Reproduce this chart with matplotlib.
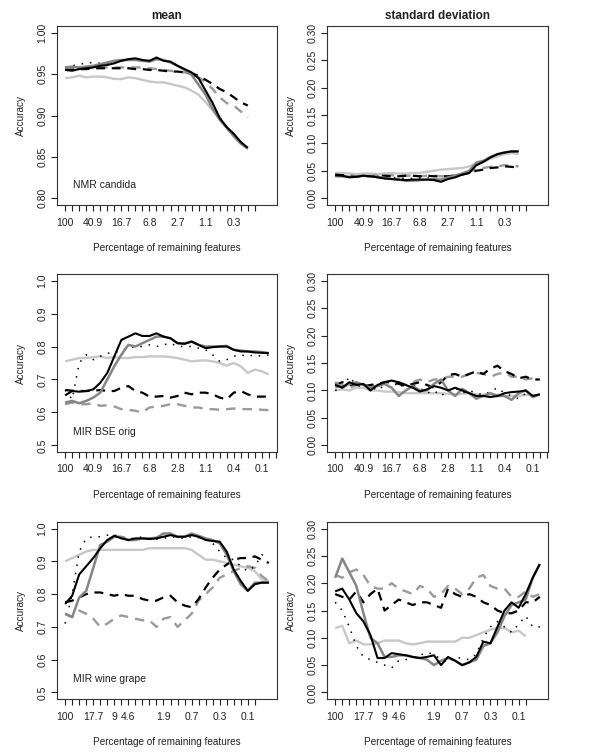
import numpy as np
import matplotlib
matplotlib.use("Agg")
import matplotlib.pyplot as plt

plt.rcParams['font.family'] = ['Liberation Sans', 'DejaVu Sans']

# ---- tick labels (percentage of remaining features) ----
top_ticks = {0: "100", 4: "40.9", 8: "16.7", 12: "6.8", 16: "2.7", 20: "1.1", 24: "0.3"}
mid_ticks = {0: "100", 4: "40.9", 8: "16.7", 12: "6.8", 16: "2.8", 20: "1.1", 24: "0.4", 28: "0.1"}
bot_ticks = {0: "100", 4: "17.7", 7: "9", 9: "4.6", 14: "1.9", 18: "0.7", 22: "0.3", 26: "0.1"}
n_ticks = [28, 31, 28]

# ---- NMR candida, mean ----
nmr_mean_black = [0.955, 0.954, 0.956, 0.957, 0.958, 0.960, 0.961, 0.963, 0.966, 0.968, 0.969, 0.967, 0.966, 0.970,
                  0.966, 0.965, 0.960, 0.956, 0.952, 0.945, 0.930, 0.915, 0.897, 0.886, 0.878, 0.868, 0.861]
nmr_mean_gray = [0.958, 0.959, 0.958, 0.959, 0.960, 0.962, 0.964, 0.966, 0.967, 0.967, 0.967, 0.966, 0.965, 0.968,
                 0.967, 0.964, 0.960, 0.955, 0.949, 0.937, 0.925, 0.908, 0.895, 0.885, 0.875, 0.866, 0.860]
nmr_mean_light = [0.945, 0.946, 0.948, 0.946, 0.947, 0.947, 0.946, 0.944, 0.944, 0.946, 0.945, 0.943, 0.941, 0.940,
                  0.940, 0.938, 0.936, 0.934, 0.930, 0.925, 0.916, 0.906, 0.896, 0.886, 0.876, 0.867, 0.860]
nmr_mean_dash = [0.955, 0.955, 0.956, 0.956, 0.957, 0.957, 0.957, 0.957, 0.957, 0.957, 0.956, 0.956, 0.955, 0.955,
                 0.954, 0.953, 0.953, 0.952, 0.951, 0.948, 0.943, 0.938, 0.932, 0.928, 0.922, 0.916, 0.912]
nmr_mean_gdash = [0.957, 0.957, 0.958, 0.958, 0.958, 0.958, 0.958, 0.958, 0.958, 0.958, 0.958, 0.958, 0.957, 0.956,
                  0.955, 0.954, 0.953, 0.952, 0.950, 0.946, 0.940, 0.932, 0.922, 0.915, 0.912, 0.905, 0.898]
nmr_mean_dot = [0.958, 0.960, 0.962, 0.963, 0.964, 0.963, 0.963, 0.964, 0.966, 0.967, 0.968, 0.967, 0.966, 0.968,
                0.966, 0.964, 0.960, 0.956, 0.951, 0.944, 0.930, 0.914, 0.898, 0.886, 0.877, 0.868, 0.861]

# ---- NMR candida, standard deviation ----
nmr_sd_black = [0.042, 0.041, 0.038, 0.039, 0.041, 0.040, 0.038, 0.036, 0.035, 0.034, 0.033, 0.034, 0.034, 0.034,
                0.033, 0.030, 0.035, 0.038, 0.043, 0.046, 0.060, 0.066, 0.074, 0.080, 0.083, 0.085, 0.085]
nmr_sd_gray = [0.040, 0.040, 0.039, 0.040, 0.041, 0.040, 0.039, 0.037, 0.035, 0.034, 0.032, 0.032, 0.033, 0.034,
               0.035, 0.034, 0.038, 0.041, 0.045, 0.050, 0.065, 0.068, 0.075, 0.080, 0.083, 0.085, 0.085]
nmr_sd_light = [0.046, 0.046, 0.045, 0.044, 0.045, 0.045, 0.044, 0.045, 0.046, 0.045, 0.045, 0.046, 0.046, 0.048,
                0.050, 0.052, 0.053, 0.054, 0.055, 0.058, 0.063, 0.066, 0.072, 0.076, 0.080, 0.082, 0.080]
nmr_sd_dash = [0.043, 0.042, 0.041, 0.040, 0.040, 0.040, 0.041, 0.041, 0.040, 0.040, 0.041, 0.041, 0.040, 0.041,
               0.040, 0.040, 0.040, 0.041, 0.043, 0.046, 0.050, 0.052, 0.055, 0.056, 0.058, 0.057, 0.056]
nmr_sd_gdash = [0.041, 0.041, 0.041, 0.040, 0.040, 0.041, 0.041, 0.041, 0.042, 0.041, 0.041, 0.041, 0.040, 0.041,
                0.041, 0.040, 0.041, 0.042, 0.044, 0.048, 0.053, 0.055, 0.057, 0.058, 0.060, 0.059, 0.058]
nmr_sd_dot = [0.041, 0.041, 0.040, 0.040, 0.041, 0.040, 0.040, 0.039, 0.038, 0.037, 0.036, 0.036, 0.037, 0.037,
              0.036, 0.035, 0.037, 0.040, 0.044, 0.048, 0.062, 0.067, 0.074, 0.080, 0.083, 0.084, 0.084]

# ---- MIR BSE orig, mean ----
bse_mean_black = [0.652, 0.665, 0.663, 0.665, 0.670, 0.690, 0.720, 0.770, 0.820, 0.830, 0.840, 0.832, 0.832, 0.840,
                  0.830, 0.825, 0.810, 0.808, 0.815, 0.805, 0.795, 0.798, 0.800, 0.800, 0.790, 0.785, 0.785, 0.782,
                  0.781, 0.780]
bse_mean_gray = [0.630, 0.635, 0.628, 0.635, 0.645, 0.660, 0.700, 0.740, 0.775, 0.805, 0.800, 0.810, 0.820, 0.830,
                 0.830, 0.825, 0.810, 0.810, 0.815, 0.805, 0.800, 0.800, 0.800, 0.802, 0.790, 0.788, 0.785, 0.785,
                 0.783, 0.780]
bse_mean_light = [0.755, 0.760, 0.765, 0.765, 0.768, 0.770, 0.765, 0.768, 0.765, 0.765, 0.768, 0.768, 0.770, 0.770,
                  0.770, 0.768, 0.765, 0.760, 0.755, 0.757, 0.758, 0.755, 0.750, 0.742, 0.750, 0.740, 0.720, 0.730,
                  0.725, 0.715]
bse_mean_dash = [0.668, 0.666, 0.665, 0.665, 0.666, 0.668, 0.665, 0.665, 0.675, 0.680, 0.665, 0.660, 0.648, 0.648,
                 0.650, 0.645, 0.650, 0.660, 0.655, 0.660, 0.660, 0.655, 0.645, 0.640, 0.660, 0.665, 0.655, 0.648,
                 0.648, 0.648]
bse_mean_gdash = [0.625, 0.630, 0.625, 0.625, 0.628, 0.620, 0.622, 0.618, 0.610, 0.608, 0.605, 0.600, 0.615, 0.618,
                  0.620, 0.625, 0.625, 0.620, 0.615, 0.615, 0.610, 0.610, 0.608, 0.610, 0.612, 0.610, 0.610, 0.610,
                  0.608, 0.607]
bse_mean_dot = [0.668, 0.640, 0.750, 0.775, 0.760, 0.770, 0.780, 0.780, 0.790, 0.795, 0.800, 0.800, 0.805, 0.800,
                0.805, 0.810, 0.800, 0.800, 0.800, 0.795, 0.790, 0.775, 0.755, 0.760, 0.770, 0.775, 0.770, 0.775,
                0.770, 0.775]

# ---- MIR BSE orig, standard deviation ----
bse_sd_black = [0.110, 0.105, 0.115, 0.110, 0.112, 0.100, 0.110, 0.115, 0.118, 0.115, 0.110, 0.105, 0.098, 0.102,
                0.108, 0.105, 0.100, 0.105, 0.100, 0.095, 0.090, 0.090, 0.088, 0.090, 0.095, 0.097, 0.098, 0.100,
                0.090, 0.093]
bse_sd_gray = [0.115, 0.105, 0.112, 0.115, 0.110, 0.105, 0.108, 0.112, 0.105, 0.090, 0.100, 0.108, 0.100, 0.100,
               0.112, 0.120, 0.100, 0.090, 0.103, 0.095, 0.085, 0.090, 0.095, 0.090, 0.090, 0.083, 0.095, 0.100,
               0.088, 0.093]
bse_sd_light = [0.100, 0.102, 0.100, 0.105, 0.105, 0.100, 0.100, 0.098, 0.098, 0.097, 0.095, 0.095, 0.095, 0.095,
                0.095, 0.095, 0.094, 0.093, 0.094, 0.095, 0.093, 0.092, 0.093, 0.092, 0.090, 0.090, 0.090, 0.092,
                0.091, 0.092]
bse_sd_dash = [0.110, 0.115, 0.110, 0.112, 0.108, 0.110, 0.112, 0.115, 0.115, 0.112, 0.108, 0.112, 0.115, 0.110,
               0.105, 0.115, 0.128, 0.130, 0.125, 0.130, 0.135, 0.130, 0.140, 0.145, 0.135, 0.130, 0.122, 0.125,
               0.120, 0.120]
bse_sd_gdash = [0.105, 0.110, 0.105, 0.110, 0.110, 0.105, 0.110, 0.115, 0.118, 0.115, 0.110, 0.115, 0.120, 0.115,
                0.120, 0.120, 0.125, 0.125, 0.125, 0.130, 0.132, 0.130, 0.125, 0.130, 0.133, 0.125, 0.125, 0.120,
                0.122, 0.120]
bse_sd_dot = [0.100, 0.105, 0.125, 0.110, 0.105, 0.108, 0.100, 0.110, 0.105, 0.115, 0.100, 0.110, 0.105, 0.095,
              0.100, 0.090, 0.100, 0.105, 0.095, 0.100, 0.095, 0.092, 0.098, 0.105, 0.095, 0.090, 0.085, 0.095,
              0.090, 0.092]

# ---- MIR wine grape, mean ----
wine_mean_black = [0.770, 0.795, 0.860, 0.885, 0.910, 0.940, 0.965, 0.978, 0.970, 0.965, 0.970, 0.970, 0.968, 0.970,
                   0.975, 0.980, 0.975, 0.975, 0.980, 0.975, 0.965, 0.962, 0.960, 0.930, 0.875, 0.840, 0.810, 0.830,
                   0.835, 0.835]
wine_mean_gray = [0.740, 0.730, 0.790, 0.810, 0.880, 0.950, 0.960, 0.975, 0.975, 0.965, 0.965, 0.970, 0.970, 0.972,
                  0.985, 0.985, 0.975, 0.975, 0.985, 0.978, 0.970, 0.965, 0.955, 0.920, 0.870, 0.830, 0.810, 0.835,
                  0.835, 0.835]
wine_mean_light = [0.900, 0.910, 0.920, 0.930, 0.935, 0.935, 0.935, 0.935, 0.935, 0.935, 0.935, 0.935, 0.940, 0.940,
                   0.940, 0.940, 0.940, 0.940, 0.935, 0.920, 0.905, 0.905, 0.900, 0.895, 0.890, 0.885, 0.880, 0.870,
                   0.845, 0.840]
wine_mean_dash = [0.775, 0.780, 0.790, 0.800, 0.805, 0.805, 0.800, 0.795, 0.800, 0.795, 0.795, 0.785, 0.780, 0.780,
                  0.790, 0.795, 0.775, 0.765, 0.760, 0.785, 0.820, 0.850, 0.875, 0.890, 0.905, 0.910, 0.910, 0.915,
                  0.905, 0.895]
wine_mean_gdash = [0.740, 0.730, 0.750, 0.740, 0.725, 0.700, 0.710, 0.725, 0.735, 0.730, 0.725, 0.720, 0.720, 0.700,
                   0.725, 0.730, 0.700, 0.720, 0.740, 0.780, 0.800, 0.820, 0.850, 0.860, 0.870, 0.880, 0.885, 0.880,
                   0.855, 0.840]
wine_mean_dot = [0.710, 0.800, 0.930, 0.970, 0.975, 0.975, 0.980, 0.980, 0.975, 0.970, 0.970, 0.975, 0.970, 0.968,
                 0.970, 0.975, 0.972, 0.970, 0.975, 0.972, 0.970, 0.955, 0.930, 0.910, 0.905, 0.885, 0.870, 0.885,
                 0.920, 0.910]

# ---- MIR wine grape, standard deviation ----
wine_sd_black = [0.185, 0.190, 0.170, 0.145, 0.130, 0.105, 0.063, 0.063, 0.072, 0.070, 0.068, 0.065, 0.063, 0.065,
                 0.068, 0.050, 0.065, 0.058, 0.050, 0.055, 0.065, 0.093, 0.090, 0.120, 0.150, 0.165, 0.155, 0.180,
                 0.210, 0.235]
wine_sd_gray = [0.210, 0.245, 0.220, 0.195, 0.145, 0.100, 0.090, 0.065, 0.065, 0.068, 0.068, 0.065, 0.063, 0.060,
                0.050, 0.058, 0.063, 0.058, 0.050, 0.055, 0.060, 0.085, 0.090, 0.110, 0.140, 0.160, 0.165, 0.170,
                0.210, 0.235]
wine_sd_light = [0.118, 0.122, 0.090, 0.095, 0.088, 0.088, 0.090, 0.095, 0.095, 0.095, 0.090, 0.088, 0.090, 0.093,
                 0.093, 0.093, 0.093, 0.093, 0.100, 0.100, 0.105, 0.110, 0.115, 0.118, 0.118, 0.110, 0.113, 0.103,
                 np.nan, np.nan]
wine_sd_dash = [0.180, 0.175, 0.170, 0.185, 0.165, 0.180, 0.190, 0.150, 0.160, 0.170, 0.165, 0.160, 0.165, 0.165,
                0.160, 0.155, 0.190, 0.180, 0.175, 0.180, 0.175, 0.165, 0.160, 0.150, 0.145, 0.145, 0.150, 0.165,
                0.165, 0.175]
wine_sd_gdash = [0.215, 0.210, 0.220, 0.225, 0.215, 0.195, 0.190, 0.190, 0.200, 0.190, 0.185, 0.180, 0.195, 0.190,
                 0.175, 0.180, 0.195, 0.190, 0.180, 0.190, 0.210, 0.215, 0.195, 0.190, 0.190, 0.175, 0.175, 0.185,
                 0.175, 0.180]
wine_sd_dot = [0.165, 0.150, 0.120, 0.085, 0.065, 0.060, 0.055, 0.050, 0.045, 0.058, 0.060, 0.063, 0.068, 0.073,
               0.070, 0.060, 0.055, 0.065, 0.062, 0.060, 0.070, 0.100, 0.120, 0.130, 0.120, 0.110, 0.125, 0.140,
               0.120, 0.120]

panel_names = ["NMR candida", "MIR BSE orig", "MIR wine grape"]
mean_series = [
    [nmr_mean_light, nmr_mean_gdash, nmr_mean_dash, nmr_mean_dot, nmr_mean_gray, nmr_mean_black],
    [bse_mean_light, bse_mean_gdash, bse_mean_dash, bse_mean_dot, bse_mean_gray, bse_mean_black],
    [wine_mean_light, wine_mean_gdash, wine_mean_dash, wine_mean_dot, wine_mean_gray, wine_mean_black],
]
sd_series = [
    [nmr_sd_light, nmr_sd_gdash, nmr_sd_dash, nmr_sd_dot, nmr_sd_gray, nmr_sd_black],
    [bse_sd_light, bse_sd_gdash, bse_sd_dash, bse_sd_dot, bse_sd_gray, bse_sd_black],
    [wine_sd_light, wine_sd_gdash, wine_sd_dash, wine_sd_dot, wine_sd_gray, wine_sd_black],
]
tick_sets = [top_ticks, mid_ticks, bot_ticks]

# styles in the same order as the series lists
styles = [
    dict(color="#c8c8c8", lw=1.7, ls="-"),
    dict(color="#9a9a9a", lw=1.7, ls=(0, (4, 3))),
    dict(color="black", lw=1.6, ls=(0, (4, 3))),
    dict(color="black", lw=1.1, ls=(0, (1, 4.5))),
    dict(color="#858585", lw=1.8, ls="-"),
    dict(color="black", lw=1.5, ls="-"),
]

W, H = 600, 754
fig = plt.figure(figsize=(W / 100, H / 100), dpi=100)
txt = "#222222"
rows_px = [(26, 205), (274, 452), (522, 699)]
cols_px = [(57, 277), (327, 548)]


def setup(ax, ticks, ntick, ylim, yt, yfmt):
    ax.set_xlim(-1.16, 30.16)
    pad = (ylim[1] - ylim[0]) * 0.04
    ax.set_ylim(ylim[0] - pad, ylim[1] + pad)
    ax.set_xticks(range(ntick))
    ax.set_xticklabels([ticks.get(i, "") for i in range(ntick)])
    ax.set_yticks(yt)
    ax.set_yticklabels([yfmt.format(v) for v in yt], rotation=90, va="center")
    ax.tick_params(axis="both", direction="out", length=4, width=0.8, labelsize=7.5,
                   colors=txt, pad=3)
    ax.tick_params(axis="x", pad=5)
    for s in ax.spines.values():
        s.set_linewidth(0.8)
        s.set_color("#333333")
    ax.set_xlabel("Percentage of remaining features", fontsize=7.2, color=txt, labelpad=11)
    ax.set_ylabel("Accuracy", fontsize=7.2, color=txt, labelpad=8)


mean_ylims = [(0.80, 1.00), (0.5, 1.0), (0.5, 1.0)]
mean_yt = [np.arange(0.80, 1.001, 0.05), np.arange(0.5, 1.001, 0.1), np.arange(0.5, 1.001, 0.1)]
mean_fmt = ["{:.2f}", "{:.1f}", "{:.1f}"]

for r in range(3):
    top, bot = rows_px[r]
    for c in range(2):
        left, right = cols_px[c]
        ax = fig.add_axes([left / W, 1 - bot / H, (right - left) / W, (bot - top) / H])
        series = mean_series[r] if c == 0 else sd_series[r]
        for vals, st in zip(series, styles):
            ax.plot(np.arange(len(vals)), vals, solid_capstyle="butt", **st)
        if c == 0:
            setup(ax, tick_sets[r], n_ticks[r], mean_ylims[r], mean_yt[r], mean_fmt[r])
            ax.text(0.073, 0.095, panel_names[r], transform=ax.transAxes, fontsize=7.5, color=txt)
        else:
            setup(ax, tick_sets[r], n_ticks[r], (0.0, 0.30), np.arange(0, 0.301, 0.05), "{:.2f}")
        if r == 0:
            ax.set_title("mean" if c == 0 else "standard deviation", fontsize=8.5,
                         fontweight="bold", color=txt, pad=5)

fig.savefig("out.png", dpi=100)
